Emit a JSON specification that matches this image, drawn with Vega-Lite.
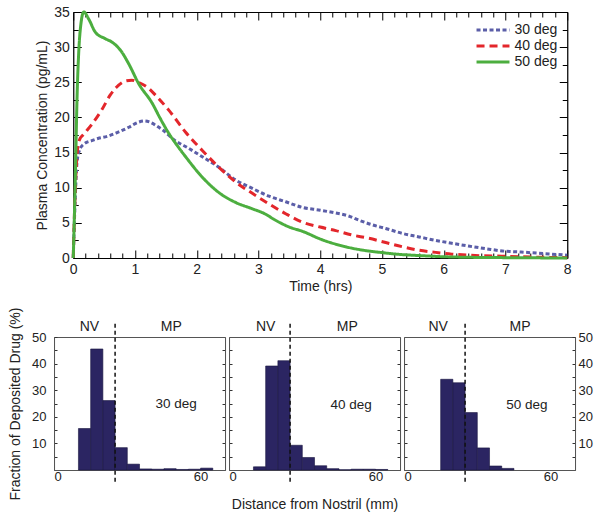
{
  "$schema": "https://vega.github.io/schema/vega-lite/v6.json",
  "padding": {"left": 8, "top": 4, "right": 4, "bottom": 4},
  "config": {
    "font": "Liberation Sans",
    "view": {"stroke": "#555"},
    "axis": {"labelFontSize": 14, "titleFontSize": 14, "titleFontWeight": "normal", "labelColor": "#222", "titleColor": "#222", "domainColor": "#000", "tickColor": "#000", "grid": false},
    "text": {"font": "Liberation Sans", "color": "#222"}
  },
  "datasets": {
    "lines": [
      {"series": "30 deg", "t": 0, "c": 0}, {"series": "30 deg", "t": 0.03, "c": 8}, {"series": "30 deg", "t": 0.06, "c": 13.5}, {"series": "30 deg", "t": 0.1, "c": 15.3}, {"series": "30 deg", "t": 0.17, "c": 16.2}, {"series": "30 deg", "t": 0.3, "c": 16.7}, {"series": "30 deg", "t": 0.4, "c": 17.0}, {"series": "30 deg", "t": 0.55, "c": 17.3}, {"series": "30 deg", "t": 0.7, "c": 17.8}, {"series": "30 deg", "t": 0.9, "c": 18.6}, {"series": "30 deg", "t": 1.05, "c": 19.3}, {"series": "30 deg", "t": 1.15, "c": 19.5}, {"series": "30 deg", "t": 1.25, "c": 19.3}, {"series": "30 deg", "t": 1.35, "c": 18.8}, {"series": "30 deg", "t": 1.45, "c": 18.2}, {"series": "30 deg", "t": 1.65, "c": 16.7}, {"series": "30 deg", "t": 1.87, "c": 15.6}, {"series": "30 deg", "t": 2.09, "c": 14.4}, {"series": "30 deg", "t": 2.36, "c": 12.9}, {"series": "30 deg", "t": 2.63, "c": 11.1}, {"series": "30 deg", "t": 2.9, "c": 9.9}, {"series": "30 deg", "t": 3.17, "c": 8.8}, {"series": "30 deg", "t": 3.44, "c": 8.0}, {"series": "30 deg", "t": 3.71, "c": 7.2}, {"series": "30 deg", "t": 4.0, "c": 6.8}, {"series": "30 deg", "t": 4.25, "c": 6.4}, {"series": "30 deg", "t": 4.45, "c": 6.0}, {"series": "30 deg", "t": 4.65, "c": 5.3}, {"series": "30 deg", "t": 4.85, "c": 4.7}, {"series": "30 deg", "t": 5.06, "c": 4.2}, {"series": "30 deg", "t": 5.33, "c": 3.5}, {"series": "30 deg", "t": 5.6, "c": 3.0}, {"series": "30 deg", "t": 5.87, "c": 2.5}, {"series": "30 deg", "t": 6.13, "c": 2.1}, {"series": "30 deg", "t": 6.4, "c": 1.7}, {"series": "30 deg", "t": 6.7, "c": 1.3}, {"series": "30 deg", "t": 6.95, "c": 1.0}, {"series": "30 deg", "t": 7.25, "c": 0.85}, {"series": "30 deg", "t": 7.5, "c": 0.7}, {"series": "30 deg", "t": 7.75, "c": 0.55}, {"series": "30 deg", "t": 8.0, "c": 0.4},
      {"series": "40 deg", "t": 0, "c": 0}, {"series": "40 deg", "t": 0.03, "c": 9}, {"series": "40 deg", "t": 0.06, "c": 14.5}, {"series": "40 deg", "t": 0.1, "c": 16.8}, {"series": "40 deg", "t": 0.17, "c": 17.6}, {"series": "40 deg", "t": 0.3, "c": 19.0}, {"series": "40 deg", "t": 0.47, "c": 21.2}, {"series": "40 deg", "t": 0.6, "c": 23.2}, {"series": "40 deg", "t": 0.7, "c": 24.3}, {"series": "40 deg", "t": 0.85, "c": 25.2}, {"series": "40 deg", "t": 0.95, "c": 25.3}, {"series": "40 deg", "t": 1.05, "c": 25.0}, {"series": "40 deg", "t": 1.2, "c": 24.3}, {"series": "40 deg", "t": 1.35, "c": 23.0}, {"series": "40 deg", "t": 1.55, "c": 21.0}, {"series": "40 deg", "t": 1.82, "c": 17.9}, {"series": "40 deg", "t": 2.09, "c": 15.3}, {"series": "40 deg", "t": 2.36, "c": 12.9}, {"series": "40 deg", "t": 2.63, "c": 10.8}, {"series": "40 deg", "t": 2.9, "c": 9.2}, {"series": "40 deg", "t": 3.17, "c": 7.7}, {"series": "40 deg", "t": 3.44, "c": 6.3}, {"series": "40 deg", "t": 3.71, "c": 5.1}, {"series": "40 deg", "t": 4.0, "c": 4.4}, {"series": "40 deg", "t": 4.25, "c": 3.9}, {"series": "40 deg", "t": 4.5, "c": 3.3}, {"series": "40 deg", "t": 4.79, "c": 2.8}, {"series": "40 deg", "t": 5.06, "c": 2.2}, {"series": "40 deg", "t": 5.33, "c": 1.6}, {"series": "40 deg", "t": 5.6, "c": 1.1}, {"series": "40 deg", "t": 5.87, "c": 0.8}, {"series": "40 deg", "t": 6.13, "c": 0.55}, {"series": "40 deg", "t": 6.4, "c": 0.4}, {"series": "40 deg", "t": 6.94, "c": 0.25}, {"series": "40 deg", "t": 7.5, "c": 0.12}, {"series": "40 deg", "t": 8.0, "c": 0.05},
      {"series": "50 deg", "t": 0, "c": 0}, {"series": "50 deg", "t": 0.03, "c": 10}, {"series": "50 deg", "t": 0.065, "c": 23.9}, {"series": "50 deg", "t": 0.09, "c": 29.5}, {"series": "50 deg", "t": 0.12, "c": 33}, {"series": "50 deg", "t": 0.17, "c": 35}, {"series": "50 deg", "t": 0.25, "c": 34}, {"series": "50 deg", "t": 0.36, "c": 32.1}, {"series": "50 deg", "t": 0.52, "c": 31.2}, {"series": "50 deg", "t": 0.63, "c": 30.7}, {"series": "50 deg", "t": 0.77, "c": 29.5}, {"series": "50 deg", "t": 0.9, "c": 27.6}, {"series": "50 deg", "t": 1.06, "c": 24.8}, {"series": "50 deg", "t": 1.28, "c": 22.0}, {"series": "50 deg", "t": 1.4, "c": 20.0}, {"series": "50 deg", "t": 1.55, "c": 17.7}, {"series": "50 deg", "t": 1.7, "c": 15.8}, {"series": "50 deg", "t": 1.82, "c": 14.4}, {"series": "50 deg", "t": 2.09, "c": 11.5}, {"series": "50 deg", "t": 2.36, "c": 9.3}, {"series": "50 deg", "t": 2.63, "c": 7.9}, {"series": "50 deg", "t": 2.9, "c": 7.0}, {"series": "50 deg", "t": 3.1, "c": 6.3}, {"series": "50 deg", "t": 3.27, "c": 5.4}, {"series": "50 deg", "t": 3.5, "c": 4.4}, {"series": "50 deg", "t": 3.71, "c": 3.8}, {"series": "50 deg", "t": 4.03, "c": 2.6}, {"series": "50 deg", "t": 4.41, "c": 1.6}, {"series": "50 deg", "t": 4.7, "c": 1.1}, {"series": "50 deg", "t": 5.0, "c": 0.77}, {"series": "50 deg", "t": 5.3, "c": 0.5}, {"series": "50 deg", "t": 5.6, "c": 0.35}, {"series": "50 deg", "t": 6.0, "c": 0.18}, {"series": "50 deg", "t": 6.4, "c": 0.1}, {"series": "50 deg", "t": 7.0, "c": 0.05}, {"series": "50 deg", "t": 8.0, "c": 0.0}
    ],
    "bars": [
      {"angle": "30 deg", "x0": 10, "x1": 15, "pct": 15.6}, {"angle": "30 deg", "x0": 15, "x1": 20, "pct": 45.5}, {"angle": "30 deg", "x0": 20, "x1": 25, "pct": 26.1}, {"angle": "30 deg", "x0": 25, "x1": 30, "pct": 8.4}, {"angle": "30 deg", "x0": 30, "x1": 35, "pct": 2.2}, {"angle": "30 deg", "x0": 35, "x1": 40, "pct": 0.4}, {"angle": "30 deg", "x0": 40, "x1": 45, "pct": 0.3}, {"angle": "30 deg", "x0": 45, "x1": 50, "pct": 0.5}, {"angle": "30 deg", "x0": 50, "x1": 55, "pct": 0.2}, {"angle": "30 deg", "x0": 55, "x1": 60, "pct": 0.3}, {"angle": "30 deg", "x0": 60, "x1": 65, "pct": 0.7},
      {"angle": "40 deg", "x0": 10, "x1": 15, "pct": 1.2}, {"angle": "40 deg", "x0": 15, "x1": 20, "pct": 39.1}, {"angle": "40 deg", "x0": 20, "x1": 25, "pct": 41.1}, {"angle": "40 deg", "x0": 25, "x1": 30, "pct": 9.3}, {"angle": "40 deg", "x0": 30, "x1": 35, "pct": 4.7}, {"angle": "40 deg", "x0": 35, "x1": 40, "pct": 1.6}, {"angle": "40 deg", "x0": 40, "x1": 45, "pct": 0.5}, {"angle": "40 deg", "x0": 45, "x1": 50, "pct": 0.1}, {"angle": "40 deg", "x0": 50, "x1": 55, "pct": 0.3}, {"angle": "40 deg", "x0": 55, "x1": 60, "pct": 0.3}, {"angle": "40 deg", "x0": 60, "x1": 65, "pct": 0.2},
      {"angle": "50 deg", "x0": 15, "x1": 20, "pct": 34.1}, {"angle": "50 deg", "x0": 20, "x1": 25, "pct": 32.8}, {"angle": "50 deg", "x0": 25, "x1": 30, "pct": 21.6}, {"angle": "50 deg", "x0": 30, "x1": 35, "pct": 8.3}, {"angle": "50 deg", "x0": 35, "x1": 40, "pct": 1.5}, {"angle": "50 deg", "x0": 40, "x1": 45, "pct": 0.6}
    ]
  },
  "vconcat": [
    {
      "width": 494,
      "height": 246,
      "data": {"name": "lines"},
      "layer": [
        {
          "mark": {"type": "line", "strokeWidth": 3, "interpolate": "monotone"},
          "encoding": {
            "x": {"field": "t", "type": "quantitative", "scale": {"domain": [0, 8], "nice": false},
              "axis": {"orient": "bottom", "title": "Time (hrs)", "values": [0,0.2,0.4,0.6,0.8,1,1.2,1.4,1.6,1.8,2,2.2,2.4,2.6,2.8,3,3.2,3.4,3.6,3.8,4,4.2,4.4,4.6,4.8,5,5.2,5.4,5.6,5.8,6,6.2,6.4,6.6,6.8,7,7.2,7.4,7.6,7.8,8],
                "labelExpr": "datum.value % 1 === 0 ? '' + datum.value : ''",
                "tickSize": {"condition": {"test": "datum.value % 1 === 0", "value": -8}, "value": -5},
                "labelPadding": 12, "titlePadding": 3, "labelFlush": false}},
            "y": {"field": "c", "type": "quantitative", "scale": {"domain": [0, 35], "nice": false},
              "axis": {"orient": "left", "title": "Plasma Concentration (pg/mL)", "values": [0,2.5,5,7.5,10,12.5,15,17.5,20,22.5,25,27.5,30,32.5,35],
                "labelExpr": "datum.value % 5 === 0 ? '' + datum.value : ''",
                "tickSize": {"condition": {"test": "datum.value % 5 === 0", "value": -8}, "value": -5},
                "labelPadding": 12, "titlePadding": 4}},
            "color": {"field": "series", "type": "nominal", "scale": {"domain": ["30 deg", "40 deg", "50 deg"], "range": ["#5b5ea8", "#e3262b", "#4cae3f"]},
              "legend": {"orient": "none", "legendX": 430, "legendY": 9, "title": null, "symbolType": "M-2.33,0H2.33", "symbolSize": 200, "symbolStrokeWidth": 3, "labelFontSize": 14, "labelColor": "#222", "padding": 0, "rowPadding": 0, "labelOffset": 12.5}},
            "strokeDash": {"field": "series", "type": "nominal", "scale": {"domain": ["30 deg", "40 deg", "50 deg"], "range": [[4, 2.5], [8, 5], [1, 0]]},
              "legend": {"orient": "none", "legendX": 430, "legendY": 9, "title": null, "symbolType": "M-2.33,0H2.33", "symbolSize": 200, "symbolStrokeWidth": 3, "labelFontSize": 14, "labelColor": "#222", "padding": 0, "rowPadding": 0, "labelOffset": 12.5}}
          }
        },
        {
          "mark": {"type": "point", "opacity": 0},
          "encoding": {
            "x": {"field": "t", "type": "quantitative", "scale": {"domain": [0, 8], "nice": false},
              "axis": {"orient": "top", "title": null, "labels": false, "values": [0,0.2,0.4,0.6,0.8,1,1.2,1.4,1.6,1.8,2,2.2,2.4,2.6,2.8,3,3.2,3.4,3.6,3.8,4,4.2,4.4,4.6,4.8,5,5.2,5.4,5.6,5.8,6,6.2,6.4,6.6,6.8,7,7.2,7.4,7.6,7.8,8],
                "tickSize": {"condition": {"test": "datum.value % 1 === 0", "value": -8}, "value": -5}}},
            "y": {"field": "c", "type": "quantitative", "scale": {"domain": [0, 35], "nice": false},
              "axis": {"orient": "right", "title": null, "labels": false, "values": [0,2.5,5,7.5,10,12.5,15,17.5,20,22.5,25,27.5,30,32.5,35],
                "tickSize": {"condition": {"test": "datum.value % 5 === 0", "value": -8}, "value": -5}}}
          }
        }
      ],
      "resolve": {"axis": {"x": "independent", "y": "independent"}}
    },
    {
      "spacing": 2,
      "hconcat": [
        {
          "width": 171, "height": 133,
          "layer": [
            {
              "data": {"name": "bars"},
              "transform": [{"filter": "datum.angle === '30 deg'"}],
              "mark": {"type": "bar", "fill": "#2b2562", "stroke": "#1a1640", "strokeWidth": 0.6},
              "encoding": {
                "x": {"field": "x0", "type": "quantitative", "scale": {"domain": [0, 70], "nice": false},
                  "axis": {"orient": "bottom", "title": null, "values": [0, 60], "ticks": false, "labelPadding": 0, "labelFontSize": 13, "domainColor": "#555"}},
                "x2": {"field": "x1"},
                "y": {"field": "pct", "type": "quantitative", "scale": {"domain": [0, 50], "nice": false},
                  "axis": {"orient": "left", "title": "Fraction of Deposited Drug (%)", "values": [5,10,15,20,25,30,35,40,45,50],
                    "labelExpr": "datum.value % 10 === 0 ? '' + datum.value : ''", "tickSize": -3, "labelPadding": 11, "titlePadding": 9, "labelFontSize": 13, "domainColor": "#555", "tickColor": "#333"}},
                "y2": {"datum": 0}
              }
            },
            {
              "data": {"values": [{}]},
              "mark": {"type": "rule", "strokeDash": [4, 3], "strokeWidth": 1.5, "color": "#111"},
              "encoding": {
                "x": {"datum": 25, "type": "quantitative", "scale": {"domain": [0, 70], "nice": false}, "axis": null},
                "y": {"datum": 55, "type": "quantitative", "scale": {"domain": [0, 50], "nice": false},
                  "axis": {"orient": "right", "title": null, "labels": false, "values": [5,10,15,20,25,30,35,40,45], "tickSize": -3, "domainColor": "#555", "tickColor": "#333"}},
                "y2": {"datum": -5}
              }
            },
            {
              "data": {"values": [{}]},
              "mark": {"type": "text", "fontSize": 14},
              "encoding": {"x": {"datum": 14.5, "type": "quantitative", "scale": {"domain": [0, 70], "nice": false}, "axis": null}, "y": {"datum": 53.6, "type": "quantitative", "scale": {"domain": [0, 50], "nice": false}, "axis": null}, "text": {"value": "NV"}}
            },
            {
              "data": {"values": [{}]},
              "mark": {"type": "text", "fontSize": 14},
              "encoding": {"x": {"datum": 48, "type": "quantitative", "scale": {"domain": [0, 70], "nice": false}, "axis": null}, "y": {"datum": 53.6, "type": "quantitative", "scale": {"domain": [0, 50], "nice": false}, "axis": null}, "text": {"value": "MP"}}
            },
            {
              "data": {"values": [{}]},
              "mark": {"type": "text", "fontSize": 13.5},
              "encoding": {"x": {"datum": 50, "type": "quantitative", "scale": {"domain": [0, 70], "nice": false}, "axis": null}, "y": {"datum": 25, "type": "quantitative", "scale": {"domain": [0, 50], "nice": false}, "axis": null}, "text": {"value": "30 deg"}}
            }
          ],
          "resolve": {"axis": {"x": "independent", "y": "independent"}}
        },
        {
          "width": 171, "height": 133,
          "layer": [
            {
              "data": {"name": "bars"},
              "transform": [{"filter": "datum.angle === '40 deg'"}],
              "mark": {"type": "bar", "fill": "#2b2562", "stroke": "#1a1640", "strokeWidth": 0.6},
              "encoding": {
                "x": {"field": "x0", "type": "quantitative", "scale": {"domain": [0, 70], "nice": false},
                  "axis": {"orient": "bottom", "title": "Distance from Nostril (mm)", "values": [0, 60], "ticks": false, "labelPadding": 0, "labelFontSize": 13, "titlePadding": 14, "domainColor": "#555"}},
                "x2": {"field": "x1"},
                "y": {"field": "pct", "type": "quantitative", "scale": {"domain": [0, 50], "nice": false},
                  "axis": {"orient": "left", "title": null, "labels": false, "values": [5,10,15,20,25,30,35,40,45], "tickSize": -3, "domainColor": "#555", "tickColor": "#333"}},
                "y2": {"datum": 0}
              }
            },
            {
              "data": {"values": [{}]},
              "mark": {"type": "rule", "strokeDash": [4, 3], "strokeWidth": 1.5, "color": "#111"},
              "encoding": {
                "x": {"datum": 25, "type": "quantitative", "scale": {"domain": [0, 70], "nice": false}, "axis": null},
                "y": {"datum": 55, "type": "quantitative", "scale": {"domain": [0, 50], "nice": false},
                  "axis": {"orient": "right", "title": null, "labels": false, "values": [5,10,15,20,25,30,35,40,45], "tickSize": -3, "domainColor": "#555", "tickColor": "#333"}},
                "y2": {"datum": -5}
              }
            },
            {
              "data": {"values": [{}]},
              "mark": {"type": "text", "fontSize": 14},
              "encoding": {"x": {"datum": 15, "type": "quantitative", "scale": {"domain": [0, 70], "nice": false}, "axis": null}, "y": {"datum": 53.6, "type": "quantitative", "scale": {"domain": [0, 50], "nice": false}, "axis": null}, "text": {"value": "NV"}}
            },
            {
              "data": {"values": [{}]},
              "mark": {"type": "text", "fontSize": 14},
              "encoding": {"x": {"datum": 48.4, "type": "quantitative", "scale": {"domain": [0, 70], "nice": false}, "axis": null}, "y": {"datum": 53.6, "type": "quantitative", "scale": {"domain": [0, 50], "nice": false}, "axis": null}, "text": {"value": "MP"}}
            },
            {
              "data": {"values": [{}]},
              "mark": {"type": "text", "fontSize": 13.5},
              "encoding": {"x": {"datum": 50, "type": "quantitative", "scale": {"domain": [0, 70], "nice": false}, "axis": null}, "y": {"datum": 24.4, "type": "quantitative", "scale": {"domain": [0, 50], "nice": false}, "axis": null}, "text": {"value": "40 deg"}}
            }
          ],
          "resolve": {"axis": {"x": "independent", "y": "independent"}}
        },
        {
          "width": 171, "height": 133,
          "layer": [
            {
              "data": {"name": "bars"},
              "transform": [{"filter": "datum.angle === '50 deg'"}],
              "mark": {"type": "bar", "fill": "#2b2562", "stroke": "#1a1640", "strokeWidth": 0.6},
              "encoding": {
                "x": {"field": "x0", "type": "quantitative", "scale": {"domain": [0, 70], "nice": false},
                  "axis": {"orient": "bottom", "title": null, "values": [0, 60], "ticks": false, "labelPadding": 0, "labelFontSize": 13, "domainColor": "#555"}},
                "x2": {"field": "x1"},
                "y": {"field": "pct", "type": "quantitative", "scale": {"domain": [0, 50], "nice": false},
                  "axis": {"orient": "left", "title": null, "labels": false, "values": [5,10,15,20,25,30,35,40,45], "tickSize": -3, "domainColor": "#555", "tickColor": "#333"}},
                "y2": {"datum": 0}
              }
            },
            {
              "data": {"values": [{}]},
              "mark": {"type": "rule", "strokeDash": [4, 3], "strokeWidth": 1.5, "color": "#111"},
              "encoding": {
                "x": {"datum": 25, "type": "quantitative", "scale": {"domain": [0, 70], "nice": false}, "axis": null},
                "y": {"datum": 55, "type": "quantitative", "scale": {"domain": [0, 50], "nice": false},
                  "axis": {"orient": "right", "title": null, "values": [5,10,15,20,25,30,35,40,45,50],
                    "labelExpr": "datum.value % 10 === 0 ? '' + datum.value : ''", "tickSize": -3, "labelPadding": 6, "labelFontSize": 13, "domainColor": "#555", "tickColor": "#333"}},
                "y2": {"datum": -5}
              }
            },
            {
              "data": {"values": [{}]},
              "mark": {"type": "text", "fontSize": 14},
              "encoding": {"x": {"datum": 14, "type": "quantitative", "scale": {"domain": [0, 70], "nice": false}, "axis": null}, "y": {"datum": 53.6, "type": "quantitative", "scale": {"domain": [0, 50], "nice": false}, "axis": null}, "text": {"value": "NV"}}
            },
            {
              "data": {"values": [{}]},
              "mark": {"type": "text", "fontSize": 14},
              "encoding": {"x": {"datum": 47.5, "type": "quantitative", "scale": {"domain": [0, 70], "nice": false}, "axis": null}, "y": {"datum": 53.6, "type": "quantitative", "scale": {"domain": [0, 50], "nice": false}, "axis": null}, "text": {"value": "MP"}}
            },
            {
              "data": {"values": [{}]},
              "mark": {"type": "text", "fontSize": 13.5},
              "encoding": {"x": {"datum": 50.3, "type": "quantitative", "scale": {"domain": [0, 70], "nice": false}, "axis": null}, "y": {"datum": 24.4, "type": "quantitative", "scale": {"domain": [0, 50], "nice": false}, "axis": null}, "text": {"value": "50 deg"}}
            }
          ],
          "resolve": {"axis": {"x": "independent", "y": "independent"}}
        }
      ]
    }
  ],
  "center": true,
  "spacing": 12
}
